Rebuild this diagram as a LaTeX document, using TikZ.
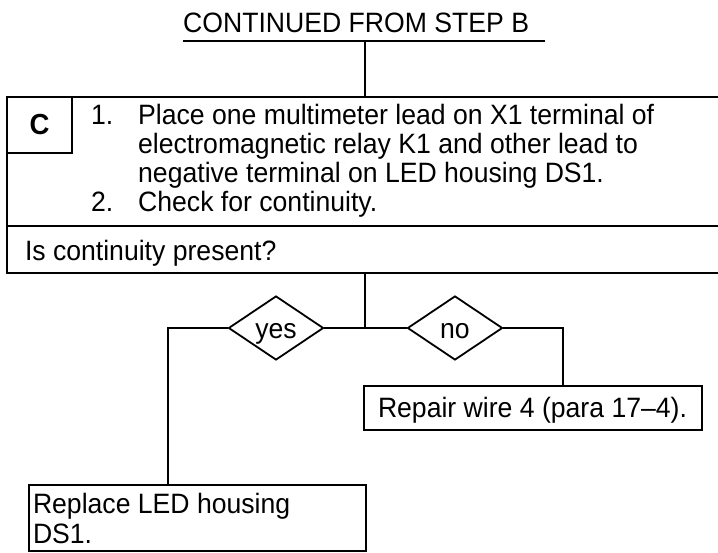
\documentclass[tikz,border=0pt]{standalone}
\usepackage{fontspec}
\setmainfont{Liberation Sans}[FakeStretch=0.95]
\usepackage{array}
\usetikzlibrary{shapes.geometric,positioning}
\tikzset{
  flowline/.style={line width=1.8pt},
  textbox/.style={draw, line width=1.8pt, anchor=north west, align=left, inner ysep=0pt, outer sep=0pt,
    execute at begin node={\spaceskip=0pt\xspaceskip=0pt\relax}},
  choice/.style={draw, diamond, line width=1.8pt, aspect=1.5, inner sep=0pt,
    minimum width=95pt, minimum height=64pt, text height=20pt, text depth=0pt},
}

\begin{document}
\begin{tikzpicture}[x=1pt, y=-1pt, font=\fontsize{28}{30}\selectfont]
  \useasboundingbox (0,0) rectangle (718,552);

  % heading
  \node[anchor=base west, inner sep=0pt] (title) at (183,32) {CONTINUED FROM STEP B};
  \coordinate (ul) at (183,41);
  \coordinate (ur) at (545,41);
  \coordinate (top) at (365,41);
  \draw[flowline] (ul) -- (ur);

  % step C
  \node[textbox, minimum width=760pt, minimum height=129pt] (steps) at (7,97) {};
  \node[textbox, minimum width=65pt, minimum height=56pt, align=center, font=\fontsize{29}{30}\selectfont\bfseries] (letter) at (steps.north west) {C};
  \node[anchor=north west, inner sep=0pt] (list) at (91,104) {%
    \fontsize{28}{29}\selectfont
    \begin{tabular}{@{}p{47pt}@{}l@{}}
      1. & Place one multimeter lead on X1 terminal of\\
         & electromagnetic relay K1 and other lead to\\
         & negative terminal on LED housing DS1.\\
      2. & Check for continuity.
    \end{tabular}};
  \node[textbox, minimum width=760pt, minimum height=47pt, text width=724pt, inner xsep=18pt,
        text height=27pt, text depth=6pt] (question) at (steps.south west) {Is continuity present?};

  \draw[flowline] (top) -- (top |- steps.north);

  % branches
  \coordinate (split) at (365,328);
  \coordinate (yesturn) at (168,328);
  \coordinate (noturn) at (563,328);
  \node[choice] (yes) at (276,328) {yes};
  \node[choice] (no) at (455,328) {no};

  \node[textbox, text width=310pt, inner xsep=14pt, minimum height=44pt,
        text height=24pt, text depth=6pt] (repair) at (364,386) {Repair wire 4 (para 17--4).};
  \node[textbox, text width=329pt, inner xsep=4pt, minimum height=66pt] (replace) at (29,485) {Replace LED housing\\DS1.};

  \draw[flowline] (question.south -| split) -- (split);
  \draw[flowline] (split) -- (yes.east);
  \draw[flowline] (split) -- (no.west);
  \draw[flowline] (yes.west) -- (yesturn) -- (yesturn |- replace.north);
  \draw[flowline] (no.east) -- (noturn) -- (noturn |- repair.north);
\end{tikzpicture}
\end{document}
